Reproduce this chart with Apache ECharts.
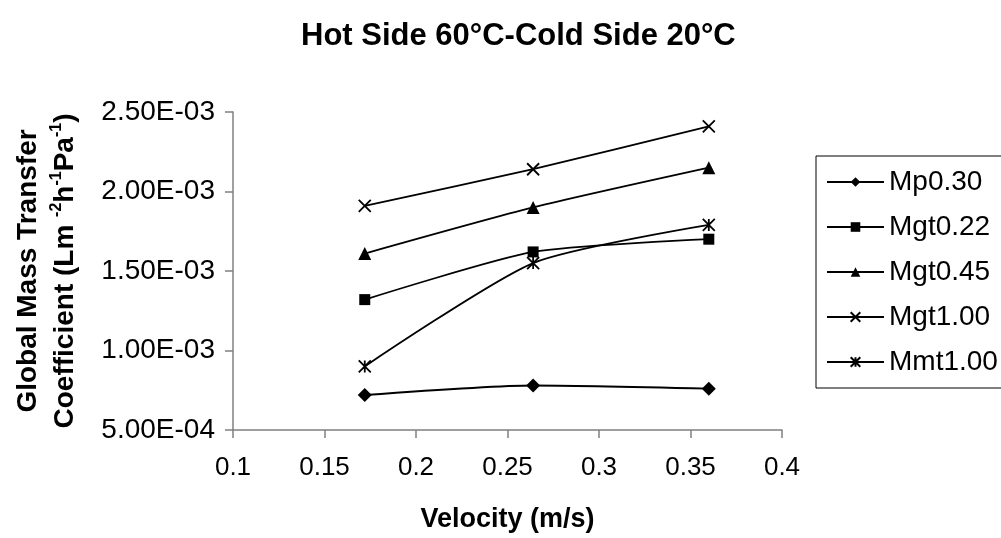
<!DOCTYPE html>
<html>
<head>
<meta charset="utf-8">
<script src="https://cdn.jsdelivr.net/npm/echarts@6/dist/echarts.min.js"></script>
<style>
  html, body { margin: 0; padding: 0; background: #fff; }
  #chart { width: 1001px; height: 538px; }
</style>
</head>
<body>
<div id="chart"></div>
<script>
  // velocity (m/s)
  const velocity = [0.172, 0.264, 0.36];

  // global mass transfer coefficient per membrane
  const mp030 = [0.72e-3, 0.78e-3, 0.76e-3];
  const mgt022 = [1.32e-3, 1.62e-3, 1.70e-3];
  const mgt045 = [1.61e-3, 1.90e-3, 2.15e-3];
  const mgt100 = [1.91e-3, 2.14e-3, 2.41e-3];
  const mmt100 = [0.90e-3, 1.55e-3, 1.79e-3];

  const seriesNames = ["Mp0.30", "Mgt0.22", "Mgt0.45", "Mgt1.00", "Mmt1.00"];

  const FONT = "Liberation Sans, Arial, sans-serif";
  const crossPath = "path://M0,0L10,10M10,0L0,10";
  const starPath = "path://M0,0L10,10M10,0L0,10M5,0L5,10";

  // 2.5e-3 -> "2.50E-03"
  const fmtE = (v) => {
    const m = v.toExponential(2).toUpperCase().match(/^(.*)E([+-])(\d+)$/);
    return m[1] + "E" + m[2] + m[3].padStart(2, "0");
  };

  const pairs = (ys) => velocity.map((x, i) => [x, ys[i]]);

  const filled = { color: "#000", borderWidth: 0 };
  const stroked = { color: "rgba(0,0,0,0)", borderColor: "#000", borderWidth: 1.8 };

  const mk = (name, ys, symbol, size, itemStyle) => ({
    name,
    type: "line",
    data: pairs(ys),
    smooth: 0.22,
    symbol,
    symbolSize: size,
    showAllSymbol: true,
    lineStyle: { color: "#000", width: 1.8 },
    itemStyle,
    emphasis: { disabled: true },
    z: 3,
  });

  const myChart = echarts.init(document.getElementById("chart"));
  const option = {
    animation: false,
    backgroundColor: "#fff",
    textStyle: { fontFamily: FONT },
    title: {
      text: "Hot Side 60°C-Cold Side 20°C",
      left: 296,
      top: 16,
      textStyle: { fontFamily: FONT, fontSize: 31, fontWeight: "bold", color: "#000" },
    },
    tooltip: { show: false },
    legend: {
      orient: "vertical",
      left: 816,
      top: 156,
      padding: [12, 60, 12, 10],
      itemWidth: 57,
      itemHeight: 12,
      itemGap: 17,
      borderColor: "#000",
      borderWidth: 1,
      textStyle: { fontFamily: FONT, fontSize: 28, color: "#000" },
      data: seriesNames,
    },
    grid: { left: 233, right: 219, top: 112, bottom: 107, containLabel: false },
    xAxis: {
      type: "value",
      min: 0.1,
      max: 0.4,
      interval: 0.05,
      name: "Velocity (m/s)",
      nameLocation: "middle",
      nameGap: 76,
      nameTextStyle: { fontFamily: FONT, fontSize: 27, fontWeight: "bold", color: "#000" },
      axisLine: { show: true, lineStyle: { color: "#808080", width: 1.5 } },
      axisTick: { show: true, length: 8, lineStyle: { color: "#808080", width: 1.5 } },
      axisLabel: {
        fontFamily: FONT,
        fontSize: 26,
        color: "#000",
        margin: 25,
        formatter: (v) => String(+v.toFixed(2)),
      },
      splitLine: { show: false },
    },
    yAxis: {
      type: "value",
      min: 5e-4,
      max: 2.5e-3,
      interval: 5e-4,
      name:
        "{t|Global Mass Transfer}\n{t|Coefficient (Lm }{s|-2}{t|h}{s|-1}{t|Pa}{s|-1}{t|)}",
      nameLocation: "middle",
      nameRotate: 90,
      nameGap: 149,
      nameTextStyle: {
        fontFamily: FONT,
        color: "#000",
        rich: {
          t: { fontFamily: FONT, fontSize: 28, fontWeight: "bold", color: "#000", lineHeight: 37 },
          s: { fontFamily: FONT, fontSize: 16, fontWeight: "bold", color: "#000", padding: [0, 0, 17, 0] },
        },
      },
      axisLine: { show: true, lineStyle: { color: "#808080", width: 1.5 } },
      axisTick: { show: true, length: 8, lineStyle: { color: "#808080", width: 1.5 } },
      axisLabel: { fontFamily: FONT, fontSize: 28, color: "#000", margin: 18, formatter: fmtE },
      splitLine: { show: false },
    },
    series: [
      mk("Mp0.30", mp030, "diamond", 14, filled),
      mk("Mgt0.22", mgt022, "rect", 11, filled),
      mk("Mgt0.45", mgt045, "triangle", 13, filled),
      mk("Mgt1.00", mgt100, crossPath, 12, stroked),
      mk("Mmt1.00", mmt100, starPath, 12, stroked),
    ],
  };
  myChart.setOption(option);
</script>
</body>
</html>
